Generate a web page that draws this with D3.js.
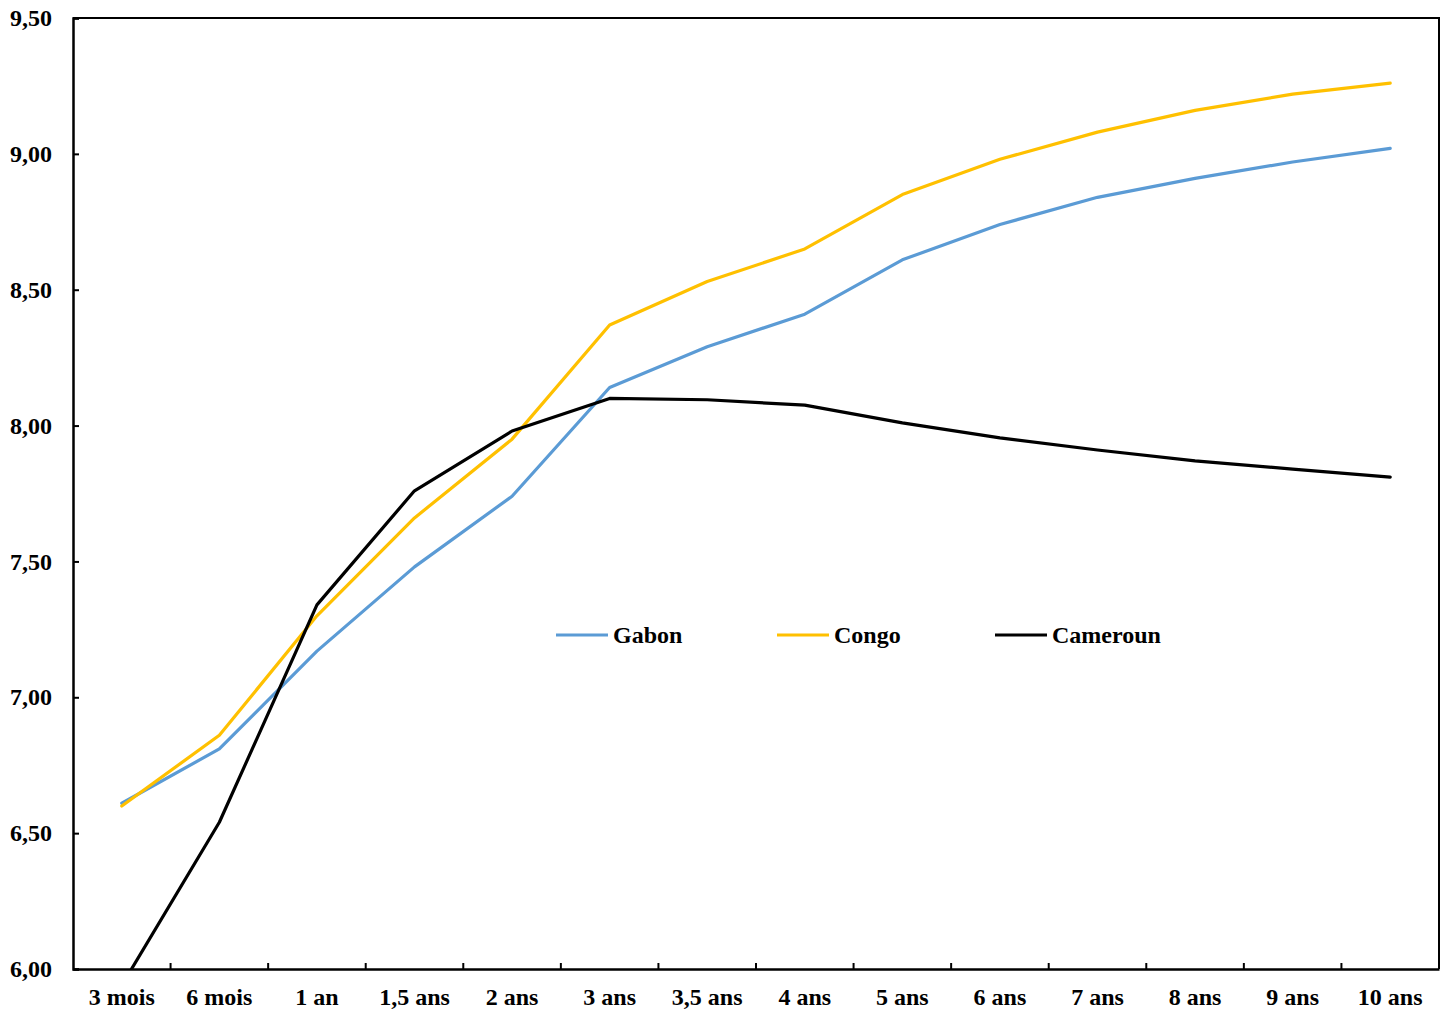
<!DOCTYPE html>
<html><head><meta charset="utf-8">
<script src="https://cdn.jsdelivr.net/npm/d3@7"></script>
<style>body{margin:0;background:#fff}svg{display:block}text{font-family:"Liberation Serif","Times New Roman",serif;font-weight:bold}</style>
</head><body>
<svg id="c" width="1453" height="1015"></svg>
<script>
const categories = ["3 mois","6 mois","1 an","1,5 ans","2 ans","3 ans","3,5 ans","4 ans","5 ans","6 ans","7 ans","8 ans","9 ans","10 ans"];
const gabon = [6.61,6.81,7.17,7.48,7.74,8.14,8.29,8.41,8.61,8.74,8.84,8.91,8.97,9.02];
const congo = [6.60,6.86,7.30,7.66,7.95,8.37,8.53,8.65,8.85,8.98,9.08,9.16,9.22,9.26];
const cameroun = [5.94,6.54,7.34,7.76,7.98,8.10,8.095,8.075,8.01,7.955,7.91,7.87,7.84,7.81];
const yTicks = [6.0,6.5,7.0,7.5,8.0,8.5,9.0,9.5];
const seriesNames = ["Gabon","Congo","Cameroun"];
const seriesColors = ["#5B9BD5","#FFC000","#000000"];
const seriesData = [gabon, congo, cameroun];

const svg = d3.select("#c");
const L = 73, R = 1439, T = 18, B = 969;
const x = d3.scaleBand().domain(categories).range([L, R]);
const y = d3.scaleLinear().domain([6, 9.5]).range([B, T]);

svg.append("defs").append("clipPath").attr("id","clip")
  .append("rect").attr("x",L).attr("y",T).attr("width",R-L).attr("height",B-T);

// frame top/right
svg.append("path").attr("d",`M${L},${T}H${R}V${B}`).attr("fill","none").attr("stroke","#000").attr("stroke-width",2);

const line = d3.line().x((d,i)=>x(categories[i])+x.bandwidth()/2).y(d=>y(d));
seriesData.forEach((s,k)=>{
  svg.append("path").datum(s).attr("d",line).attr("fill","none")
    .attr("stroke",seriesColors[k]).attr("stroke-width",3.2)
    .attr("stroke-linejoin","round").attr("stroke-linecap","round")
    .attr("clip-path","url(#clip)");
});

const FS = 24;
// y axis
const yAxis = d3.axisLeft(y).tickValues(yTicks).tickSize(-6).tickPadding(21)
  .tickFormat(d=>d3.format(".2f")(d).replace(".",","));
const gy = svg.append("g").attr("transform",`translate(${L},0)`).call(yAxis);
gy.select(".domain").attr("stroke-width",2.5);
gy.selectAll(".tick line").attr("stroke-width",2);
gy.selectAll("text").attr("font-size",FS).attr("fill","#000")
  .style("font-family",'"Liberation Serif",serif').style("font-weight","bold");

// x axis
const xAxis = d3.axisBottom(x).tickSize(0).tickPadding(19);
const gx = svg.append("g").attr("transform",`translate(0,${B})`).call(xAxis);
gx.select(".domain").attr("stroke-width",2.5);
gx.selectAll("text").attr("font-size",FS).attr("fill","#000")
  .style("font-family",'"Liberation Serif",serif').style("font-weight","bold");
// band boundary ticks (inside)
const bounds = categories.slice(1).map(c=>x(c));
gx.selectAll(".bt").data(bounds).enter().append("line")
  .attr("x1",d=>d).attr("x2",d=>d).attr("y1",0).attr("y2",-6)
  .attr("stroke","#000").attr("stroke-width",2);

// legend
const legX = [556, 777, 995];
const legY = 635;
seriesNames.forEach((n,k)=>{
  svg.append("line").attr("x1",legX[k]).attr("x2",legX[k]+52).attr("y1",legY).attr("y2",legY)
    .attr("stroke",seriesColors[k]).attr("stroke-width",3.2);
  svg.append("text").attr("x",legX[k]+57).attr("y",legY+8).attr("font-size",FS).attr("fill","#000").text(n);
});
</script>
</body></html>
